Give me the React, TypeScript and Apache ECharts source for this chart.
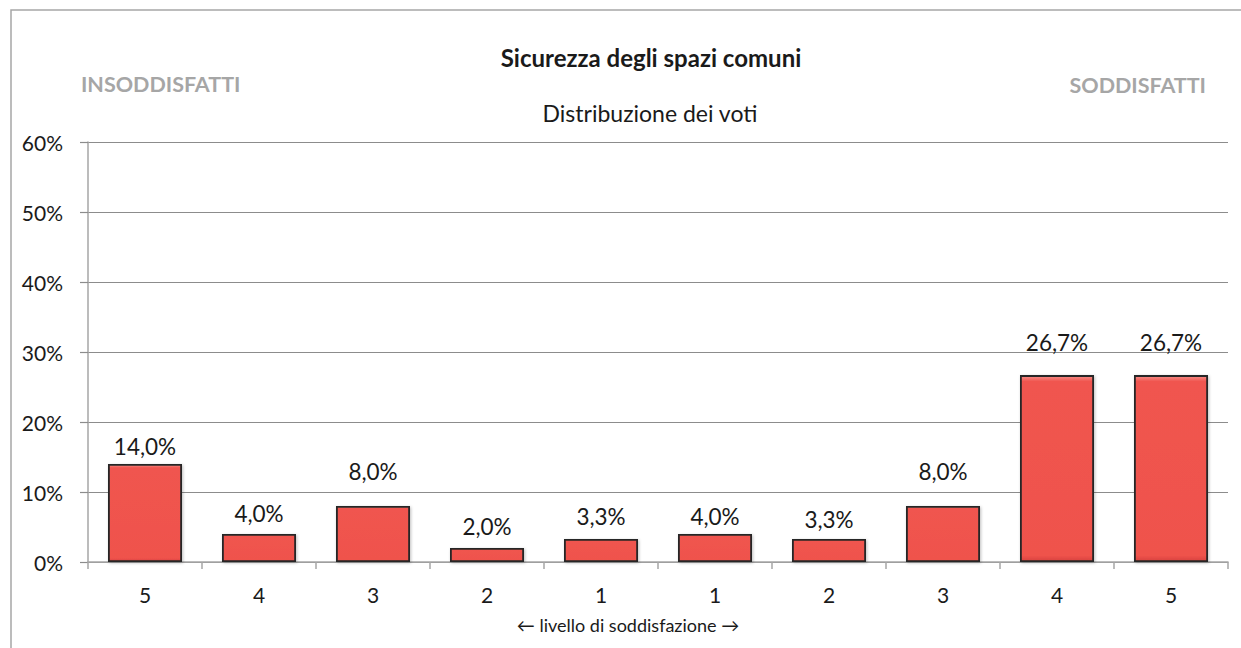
import React, { useEffect, useRef } from "react";
import * as echarts from "echarts";

const categories = ["5", "4", "3", "2", "1", "1", "2", "3", "4", "5"];
const values = [14.0, 4.0, 8.0, 2.0, 3.3, 4.0, 3.3, 8.0, 26.7, 26.7];
const yTicks = { min: 0, max: 60, interval: 10 };
const title = "Sicurezza degli spazi comuni";
const subtitle = "Distribuzione dei voti";
const leftTag = "INSODDISFATTI";
const rightTag = "SODDISFATTI";
const axisName = "← livello di soddisfazione →";

// label gap above each bar (style only, as placed in the reference)
const labelGaps = [6, 9, 23, 10, 11, 6, 8, 23, 21, 21];

const FONT = "Lato";

export default function App() {
  const ref = useRef<HTMLDivElement>(null);
  useEffect(() => {
    if (!ref.current) return;
    const chart = echarts.init(ref.current, null, { renderer: "svg" });
    chart.setOption({
      animation: false,
      backgroundColor: "#ffffff",
      textStyle: { fontFamily: FONT },
      grid: { left: 88, right: 13, top: 142, bottom: 86, containLabel: false },
      graphic: [
        {
          type: "rect",
          shape: { x: 11, y: 10, width: 1300, height: 700 },
          style: { fill: "none", stroke: "#a6a6a6", lineWidth: 1.5 },
          silent: true,
        },
        {
          type: "text",
          x: 651,
          y: 57,
          style: {
            text: title,
            font: `bold 24px ${FONT}`,
            fill: "#1a1a1a",
            textAlign: "center",
            textVerticalAlign: "middle",
          },
        },
        {
          type: "text",
          x: 650,
          y: 113,
          style: {
            text: subtitle,
            font: `23px ${FONT}`,
            fill: "#1a1a1a",
            textAlign: "center",
            textVerticalAlign: "middle",
          },
        },
        {
          type: "text",
          x: 81,
          y: 84,
          style: {
            text: leftTag,
            font: `bold 21.5px ${FONT}`,
            fill: "#a6a6a6",
            textAlign: "left",
            textVerticalAlign: "middle",
          },
        },
        {
          type: "text",
          x: 1206,
          y: 85,
          style: {
            text: rightTag,
            font: `bold 21.5px ${FONT}`,
            fill: "#a6a6a6",
            textAlign: "right",
            textVerticalAlign: "middle",
          },
        },
        {
          type: "text",
          x: 628,
          y: 625,
          style: {
            text: axisName,
            font: `18px ${FONT}`,
            fill: "#1a1a1a",
            textAlign: "center",
            textVerticalAlign: "middle",
          },
        },
      ],
      xAxis: {
        type: "category",
        data: categories,
        boundaryGap: true,
        axisLine: { show: true, lineStyle: { color: "#a6a6a6", width: 1.5 } },
        axisTick: {
          show: true,
          alignWithLabel: false,
          length: 7,
          lineStyle: { color: "#a6a6a6", width: 1.5 },
        },
        axisLabel: { fontSize: 21, color: "#1a1a1a", margin: 22, fontFamily: FONT },
        splitLine: { show: false },
      },
      yAxis: {
        type: "value",
        min: yTicks.min,
        max: yTicks.max,
        interval: yTicks.interval,
        axisLine: { show: true, lineStyle: { color: "#a6a6a6", width: 1.5 } },
        axisTick: { show: true, length: 8, lineStyle: { color: "#8c8c8c", width: 1.2 } },
        axisLabel: {
          fontSize: 21,
          color: "#1a1a1a",
          margin: 25,
          fontFamily: FONT,
          formatter: "{value}%",
        },
        splitLine: { show: true, lineStyle: { color: "#8c8c8c", width: 1.2 } },
      },
      series: [
        {
          type: "bar",
          data: values.map((v, i) => ({
            value: v,
            label: { distance: labelGaps[i] },
          })),
          barWidth: 74,
          itemStyle: {
            color: new echarts.graphic.LinearGradient(0, 0, 0, 1, [
              { offset: 0, color: "#f68d88" },
              { offset: 0.03, color: "#f0554f" },
              { offset: 0.97, color: "#ef524c" },
              { offset: 1, color: "#d8433e" },
            ]),
            borderColor: "#262626",
            borderWidth: 1.8,
            shadowColor: "rgba(0,0,0,0.25)",
            shadowBlur: 3,
            shadowOffsetX: 1,
            shadowOffsetY: 1,
          },
          label: {
            show: true,
            position: "top",
            fontSize: 22.5,
            color: "#1a1a1a",
            fontFamily: FONT,
            formatter: (p: any) => p.value.toFixed(1).replace(".", ",") + "%",
          },
        },
      ],
    });
    return () => chart.dispose();
  }, []);
  return (
    <div
      ref={ref}
      style={{ position: "absolute", left: 0, top: 0, width: 1241, height: 648 }}
    />
  );
}
